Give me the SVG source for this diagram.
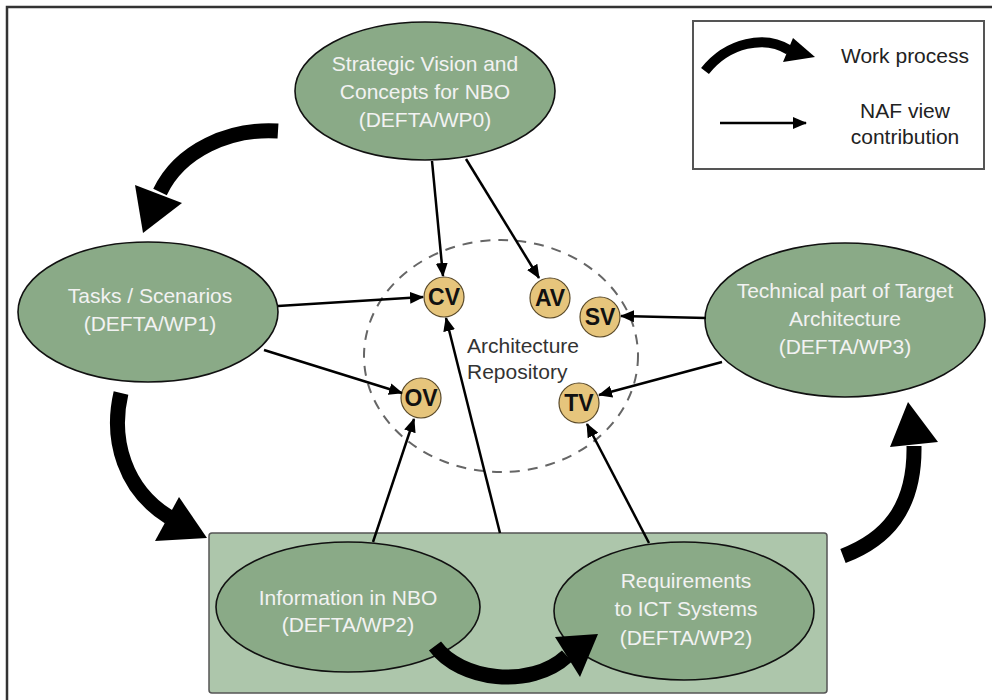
<svg xmlns="http://www.w3.org/2000/svg" width="992" height="700" viewBox="0 0 992 700">
<defs>
<style>
.node{fill:#8aaa87;stroke:#111;stroke-width:1.6}
.nt{font-family:"Liberation Sans",Arial,sans-serif;font-size:21px;fill:#f2f2f2;text-anchor:middle}
.lt{font-family:"Liberation Sans",Arial,sans-serif;font-size:21px;fill:#222;text-anchor:middle}
.view{fill:#e6c57c;stroke:#5a4a2a;stroke-width:1.2}
.vt{font-family:"Liberation Sans",Arial,sans-serif;font-size:23px;font-weight:bold;fill:#111;text-anchor:middle}
.thin{stroke:#000;stroke-width:2.5;fill:none;marker-end:url(#ah)}
.thick{stroke:#000;stroke-width:15;fill:none}
.head{fill:#000}
</style>
<marker id="ah" viewBox="0 0 14 12" refX="13" refY="6" markerWidth="14" markerHeight="12" markerUnits="userSpaceOnUse" orient="auto">
<path d="M0,0 L14,6 L0,12 z" fill="#000"/>
</marker>
</defs>
<rect width="992" height="700" fill="#fff"/>
<path d="M7,700 V7 H992" fill="none" stroke="#333" stroke-width="2.5"/>

<g id="legend">
<rect x="693" y="21" width="291" height="148" fill="#fff" stroke="#555" stroke-width="2"/>
<path d="M705,71 C728,42 765,35 789,50" fill="none" stroke="#000" stroke-width="10"/>
<polygon class="head" points="793,38 815,57 783,62"/>
<text class="lt" x="905" y="63">Work process</text>
<line x1="720" y1="123" x2="806" y2="123" class="thin"/>
<text class="lt" x="905" y="118">NAF view</text>
<text class="lt" x="905" y="144">contribution</text>
</g>

<g id="wp2-group">
<rect x="209" y="533" width="618" height="160" rx="3" fill="#adc6ab" stroke="#555" stroke-width="1.5"/>
</g>

<g id="repository">
<ellipse cx="501" cy="356" rx="137" ry="116" fill="none" stroke="#666" stroke-width="2" stroke-dasharray="10,8"/>
<text x="467" y="353" font-family="Liberation Sans, Arial, sans-serif" font-size="21" fill="#333">Architecture</text>
<text x="467" y="379" font-family="Liberation Sans, Arial, sans-serif" font-size="21" fill="#333">Repository</text>
</g>

<g id="wp0">
<ellipse class="node" cx="425" cy="91" rx="130" ry="69"/>
<text class="nt" x="425" y="71">Strategic Vision and</text>
<text class="nt" x="425" y="99">Concepts for NBO</text>
<text class="nt" x="425" y="127">(DEFTA/WP0)</text>
</g>

<g id="wp1">
<ellipse class="node" cx="148" cy="312" rx="130" ry="70"/>
<text class="nt" x="150" y="303">Tasks / Scenarios</text>
<text class="nt" x="150" y="331">(DEFTA/WP1)</text>
</g>

<g id="wp3">
<ellipse class="node" cx="845" cy="320" rx="140" ry="77"/>
<text class="nt" x="845" y="298">Technical part of Target</text>
<text class="nt" x="845" y="326">Architecture</text>
<text class="nt" x="845" y="354">(DEFTA/WP3)</text>
</g>

<g id="wp2-info">
<ellipse class="node" cx="348" cy="607" rx="132" ry="65"/>
<text class="nt" x="348" y="605">Information in NBO</text>
<text class="nt" x="348" y="632">(DEFTA/WP2)</text>
</g>

<g id="wp2-req">
<ellipse class="node" cx="684" cy="611" rx="130" ry="69"/>
<text class="nt" x="686" y="588">Requirements</text>
<text class="nt" x="686" y="616">to ICT Systems</text>
<text class="nt" x="686" y="645">(DEFTA/WP2)</text>
</g>

<g id="views">
<g id="cv"><circle class="view" cx="444" cy="297" r="20"/><text class="vt" x="444" y="305">CV</text></g>
<g id="av"><circle class="view" cx="550" cy="298" r="20"/><text class="vt" x="550" y="306">AV</text></g>
<g id="sv"><circle class="view" cx="600" cy="317" r="20"/><text class="vt" x="600" y="325">SV</text></g>
<g id="ov"><circle class="view" cx="421" cy="398" r="20"/><text class="vt" x="421" y="406">OV</text></g>
<g id="tv"><circle class="view" cx="579" cy="403" r="20"/><text class="vt" x="579" y="411">TV</text></g>
</g>

<g id="connectors">
<line class="thin" x1="432" y1="161" x2="443" y2="276"/>
<line class="thin" x1="466" y1="159" x2="539" y2="278"/>
<line class="thin" x1="278" y1="306" x2="423" y2="297"/>
<line class="thin" x1="264" y1="350" x2="402" y2="393"/>
<line class="thin" x1="373" y1="542" x2="414" y2="419"/>
<line class="thin" x1="500" y1="533" x2="446" y2="318"/>
<line class="thin" x1="649" y1="543" x2="587" y2="424"/>
<line class="thin" x1="706" y1="318" x2="621" y2="316"/>
<line class="thin" x1="722" y1="362" x2="599" y2="395"/>

<path class="thick" d="M278,131 C230,128 180,150 160,192"/>
<polygon class="head" points="135,185 182,203 143,233"/>
<path class="thick" d="M121,393 C110,440 125,490 169,517"/>
<polygon class="head" points="179,497 155,541 207,538"/>
<path class="thick" d="M843,556 C885,540 915,510 914,446"/>
<polygon class="head" points="890,447 938,442 908,402"/>
<path class="thick" d="M435,646 C460,680 530,690 567,656"/>
<polygon class="head" points="555,637 580,677 598,634"/>
</g>
</svg>
